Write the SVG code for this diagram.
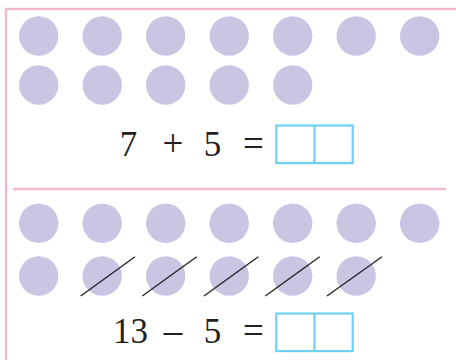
<svg xmlns="http://www.w3.org/2000/svg" width="456" height="360" viewBox="0 0 456 360">
<style>
.frame{stroke:#f7b8d3;stroke-width:2.4;fill:none}
.dot{fill:#c9c5e3}
.slash{stroke:#231f20;stroke-width:1.3;fill:none}
.box{stroke:#6dd0f7;stroke-width:2.2;fill:#fff}
.t{font-family:"Liberation Serif","Times New Roman",serif;font-size:35px;fill:#231f20;text-anchor:middle}
.op{font-size:37px}
</style>
<defs>
<circle id="d" r="19.7" class="dot"/>
</defs>
<g id="frame">
<path class="frame" d="M6 360V9H456"/>
<path class="frame" d="M13 189H446"/>
</g>
<g id="top-dots">
<use href="#d" x="38.7" y="36"/><use href="#d" x="102.2" y="36"/><use href="#d" x="165.7" y="36"/><use href="#d" x="229.2" y="36"/><use href="#d" x="292.7" y="36"/><use href="#d" x="356.2" y="36"/><use href="#d" x="419.7" y="36"/>
<use href="#d" x="38.7" y="85"/><use href="#d" x="102.2" y="85"/><use href="#d" x="165.7" y="85"/><use href="#d" x="229.2" y="85"/><use href="#d" x="292.7" y="85"/>
</g>
<g id="top-equation">
<text class="t" x="128.5" y="155.5">7</text>
<text class="t op" x="173" y="155.5">+</text>
<text class="t" x="212.5" y="155.5">5</text>
<text class="t op" x="253.5" y="155.5">=</text>
<rect class="box" x="276.3" y="125.5" width="76.4" height="37.6"/>
<line class="box" x1="314.5" y1="125.5" x2="314.5" y2="163.1"/>
</g>
<g id="bottom-dots">
<use href="#d" x="38.7" y="223.3"/><use href="#d" x="102.2" y="223.3"/><use href="#d" x="165.7" y="223.3"/><use href="#d" x="229.2" y="223.3"/><use href="#d" x="292.7" y="223.3"/><use href="#d" x="356.2" y="223.3"/><use href="#d" x="419.7" y="223.3"/>
<use href="#d" x="38.7" y="276"/><use href="#d" x="102.2" y="276"/><use href="#d" x="165.7" y="276"/><use href="#d" x="229.2" y="276"/><use href="#d" x="292.7" y="276"/><use href="#d" x="356.2" y="276"/>
</g>
<g id="slashes">
<line class="slash" x1="80.7" y1="296" x2="135" y2="256.7"/>
<line class="slash" x1="142.3" y1="296" x2="196.7" y2="256.7"/>
<line class="slash" x1="204" y1="296" x2="258.3" y2="256.7"/>
<line class="slash" x1="265.3" y1="296" x2="319.7" y2="256.7"/>
<line class="slash" x1="327" y1="296" x2="382" y2="256.7"/>
</g>
<g id="bottom-equation">
<text class="t" x="130.5" y="343.3">13</text>
<text class="t op" x="173" y="343.3">–</text>
<text class="t" x="212.5" y="343.3">5</text>
<text class="t op" x="253.5" y="343.3">=</text>
<rect class="box" x="276.3" y="313.5" width="76.4" height="37.6"/>
<line class="box" x1="314.5" y1="313.5" x2="314.5" y2="351.1"/>
</g>
</svg>
